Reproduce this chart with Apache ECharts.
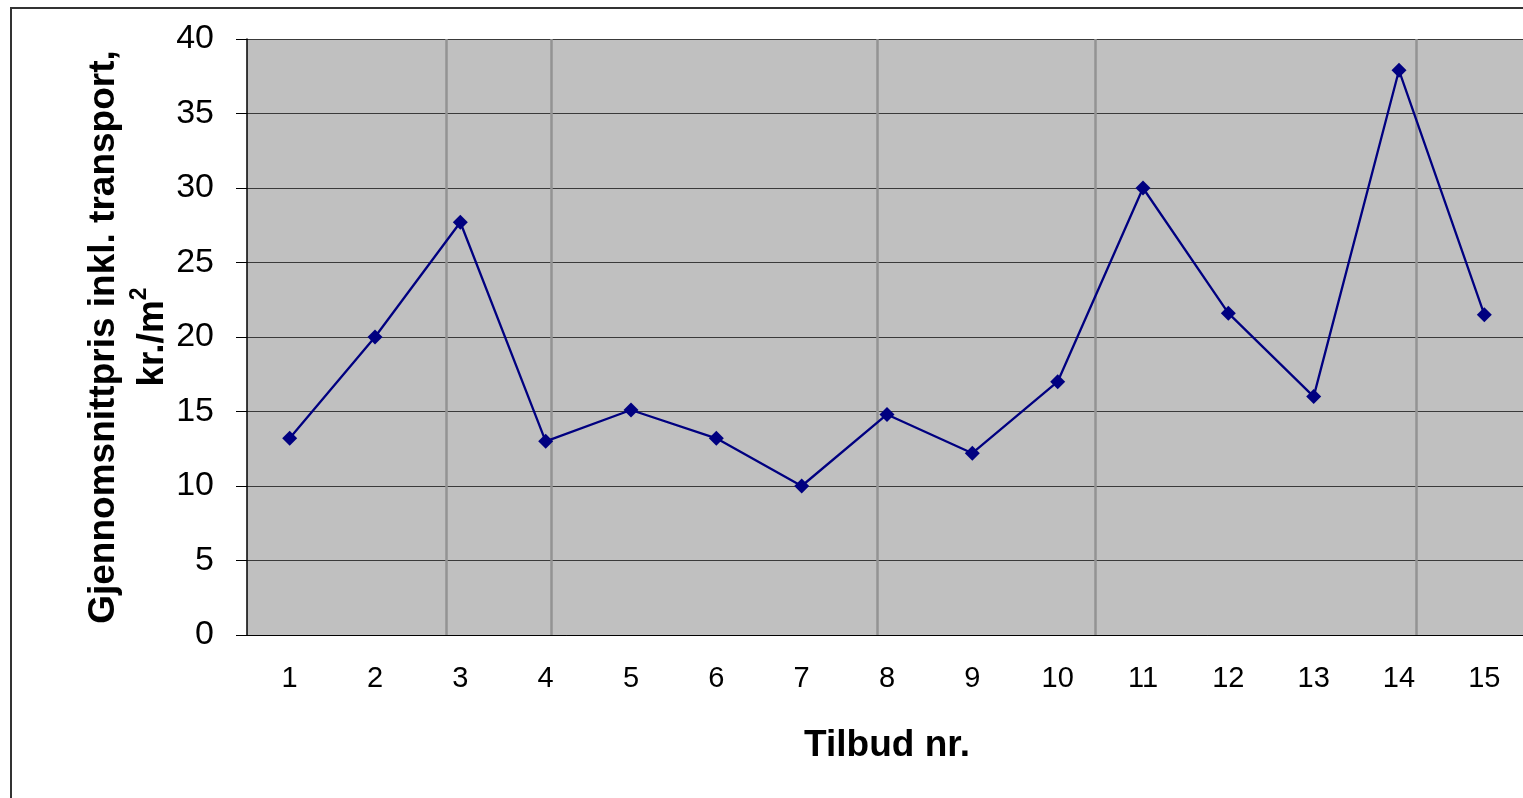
<!DOCTYPE html>
<html>
<head>
<meta charset="utf-8">
<script src="https://cdn.jsdelivr.net/npm/echarts@6/dist/echarts.min.js"></script>
<style>
  html, body { margin: 0; padding: 0; background: #fff; overflow: hidden; }
  #chart { width: 1535px; height: 798px; }
</style>
</head>
<body>
<div id="chart"></div>
<script>
// tilbud nr. og gjennomsnittspris
var categories = ['1', '2', '3', '4', '5', '6', '7', '8', '9', '10', '11', '12', '13', '14', '15'];
var prices = [13.2, 20, 27.7, 13, 15.1, 13.2, 10, 14.8, 12.2, 17, 30, 21.6, 16, 37.9, 21.5];
var yTicks = [0, 5, 10, 15, 20, 25, 30, 35, 40];
// grå vertikale streker i plottet (i kategorienheter fra venstre kant)
var grayLines = [2.33, 3.56, 7.38, 9.94, 13.70];

var chart = echarts.init(document.getElementById('chart'));

var option = {
  animation: false,
  graphic: [{
    type: 'rect',
    shape: { x: 11, y: 8, width: 1600, height: 900 },
    style: { fill: 'none', stroke: '#333', lineWidth: 2 },
    silent: true
  }],
  grid: {
    left: 247, top: 39, width: 1280, height: 596,
    show: true, backgroundColor: '#c0c0c0', borderWidth: 0
  },
  xAxis: [{
    type: 'category',
    data: categories,
    boundaryGap: true,
    name: 'Tilbud nr.',
    nameLocation: 'middle',
    nameGap: 92,
    nameTextStyle: { fontFamily: 'Liberation Sans', fontWeight: 'bold', fontSize: 37, color: '#000' },
    axisLine: { lineStyle: { color: '#000', width: 1 } },
    axisTick: { alignWithLabel: false, length: 9, lineStyle: { color: '#000' } },
    axisLabel: { fontFamily: 'Liberation Sans', fontSize: 29, color: '#000', margin: 29 },
    splitLine: { show: false }
  }, {
    type: 'value',
    min: 0, max: categories.length,
    show: false
  }],
  yAxis: {
    type: 'value',
    min: yTicks[0], max: yTicks[yTicks.length - 1], interval: 5,
    name: '{a|Gjennomsnittpris inkl. transport,}\n{a|kr./m}{sup|2}',
    nameLocation: 'middle',
    nameRotate: 90,
    nameGap: 70,
    nameMoveOverlap: false,
    nameTextStyle: {
      fontFamily: 'Liberation Sans', fontWeight: 'bold', fontSize: 37, color: '#000',
      lineHeight: 49, align: 'center',
      rich: {
        a: { fontFamily: 'Liberation Sans', fontWeight: 'bold', fontSize: 37, color: '#000', lineHeight: 49 },
        sup: { fontFamily: 'Liberation Sans', fontWeight: 'bold', fontSize: 23, color: '#000', verticalAlign: 'top', lineHeight: 49, padding: [0, 0, 14, 0] }
      }
    },
    axisLine: { show: true, lineStyle: { color: '#000', width: 1.5 } },
    axisTick: { show: true, inside: false, length: 11, lineStyle: { color: '#000' } },
    axisLabel: { fontFamily: 'Liberation Sans', fontSize: 34, color: '#000', margin: 33 },
    splitLine: { show: true, lineStyle: { color: '#3a3a3a', width: 1 } }
  },
  series: [{
    type: 'line',
    data: prices,
    xAxisIndex: 0,
    symbol: 'diamond',
    symbolSize: 15,
    lineStyle: { color: '#000080', width: 2.3 },
    itemStyle: { color: '#000080' },
    z: 5
  }, {
    type: 'line',
    xAxisIndex: 1,
    data: [],
    silent: true,
    z: 1,
    markLine: {
      silent: true,
      symbol: 'none',
      label: { show: false },
      lineStyle: { color: '#939393', width: 2.5, type: 'solid' },
      data: grayLines.map(function (v) { return { xAxis: v }; })
    }
  }]
};

chart.setOption(option);
</script>
</body>
</html>
